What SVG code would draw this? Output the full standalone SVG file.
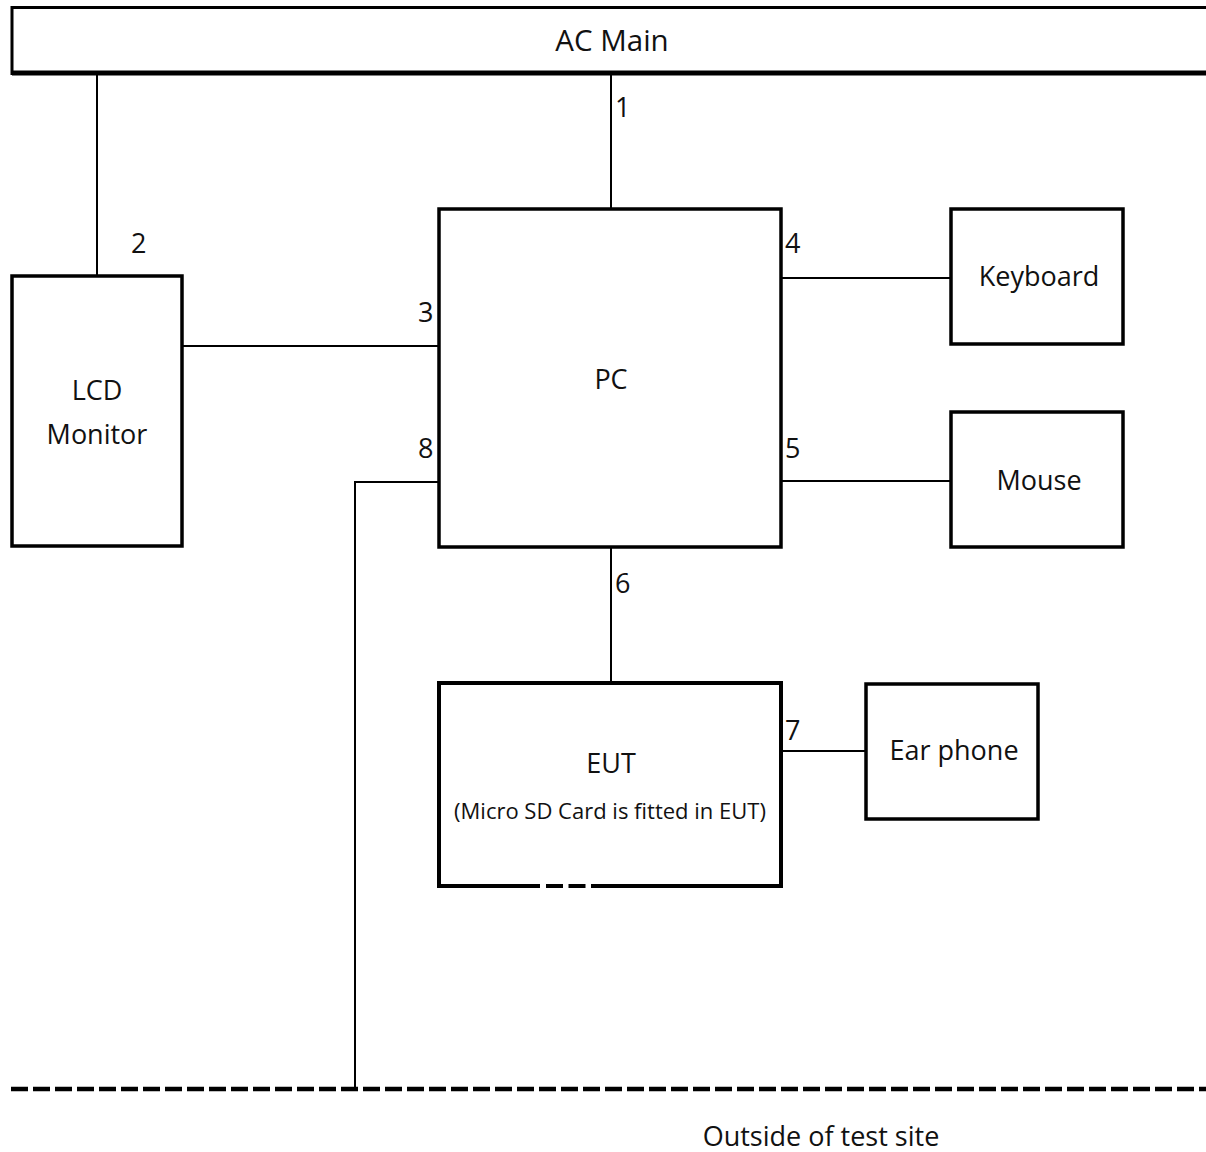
<svg xmlns="http://www.w3.org/2000/svg" width="1206" height="1152" viewBox="0 0 1206 1152">
<style>
.box{fill:#fff;stroke:#000;stroke-width:3.5}
.ln{stroke:#000;stroke-width:2;fill:none}
text{font-family:"Open Sans","Noto Sans","DejaVu Sans",sans-serif;fill:#111}
.lbl{font-size:27px;text-anchor:middle}
.num{font-size:27px}
.small{font-size:22px;text-anchor:middle}
</style>
<rect width="1206" height="1152" fill="#fff"/>
<g id="ac-main">
<path d="M1206,7.5 H12 V73.5 H1206" fill="#fff" stroke="#000" stroke-width="3"/>
<line x1="12" y1="73" x2="1206" y2="73" stroke="#000" stroke-width="5"/>
<text class="lbl" x="612" y="51" style="font-size:29.5px">AC Main</text>
</g>
<g id="connectors">
<line class="ln" x1="97" y1="75" x2="97" y2="276"/>
<line class="ln" x1="611" y1="75" x2="611" y2="209"/>
<line class="ln" x1="182" y1="346" x2="439" y2="346"/>
<polyline class="ln" points="439,482 355,482 355,1088"/>
<line class="ln" x1="781" y1="278" x2="951" y2="278"/>
<line class="ln" x1="781" y1="481" x2="951" y2="481"/>
<line class="ln" x1="611" y1="547" x2="611" y2="683"/>
<line class="ln" x1="781" y1="751" x2="866" y2="751"/>
<line x1="11" y1="1089" x2="1206" y2="1089" stroke="#000" stroke-width="4.5" stroke-dasharray="17 5"/>
</g>
<g id="labels">
<text class="num" x="615" y="117">1</text>
<text class="num" x="131" y="253">2</text>
<text class="num" x="418" y="322">3</text>
<text class="num" x="785" y="253">4</text>
<text class="num" x="785" y="458">5</text>
<text class="num" x="615" y="593">6</text>
<text class="num" x="785" y="740">7</text>
<text class="num" x="418" y="458">8</text>
</g>
<g id="pc">
<rect class="box" x="439" y="209" width="342" height="338"/>
<text class="lbl" x="611" y="389">PC</text>
</g>
<g id="lcd-monitor">
<rect class="box" x="12" y="276" width="170" height="270"/>
<text class="lbl" x="97" y="400">LCD</text>
<text class="lbl" x="97" y="444">Monitor</text>
</g>
<g id="keyboard">
<rect class="box" x="951" y="209" width="172" height="135"/>
<text class="lbl" x="1039" y="286">Keyboard</text>
</g>
<g id="mouse">
<rect class="box" x="951" y="412" width="172" height="135"/>
<text class="lbl" x="1039" y="490">Mouse</text>
</g>
<g id="eut">
<path d="M540,886 H439 V683 H781 V886 H608" fill="#fff" stroke="#000" stroke-width="4"/>
<line x1="546" y1="886" x2="608" y2="886" stroke="#000" stroke-width="4" stroke-dasharray="17 5.5"/>
<text class="lbl" x="611" y="773">EUT</text>
<text class="small" x="610" y="819">(Micro SD Card is fitted in EUT)</text>
</g>
<g id="ear-phone">
<rect class="box" x="866" y="684" width="172" height="135"/>
<text class="lbl" x="954" y="760">Ear phone</text>
</g>
<g id="outside">
<text class="lbl" x="821" y="1146">Outside of test site</text>
</g>
</svg>
